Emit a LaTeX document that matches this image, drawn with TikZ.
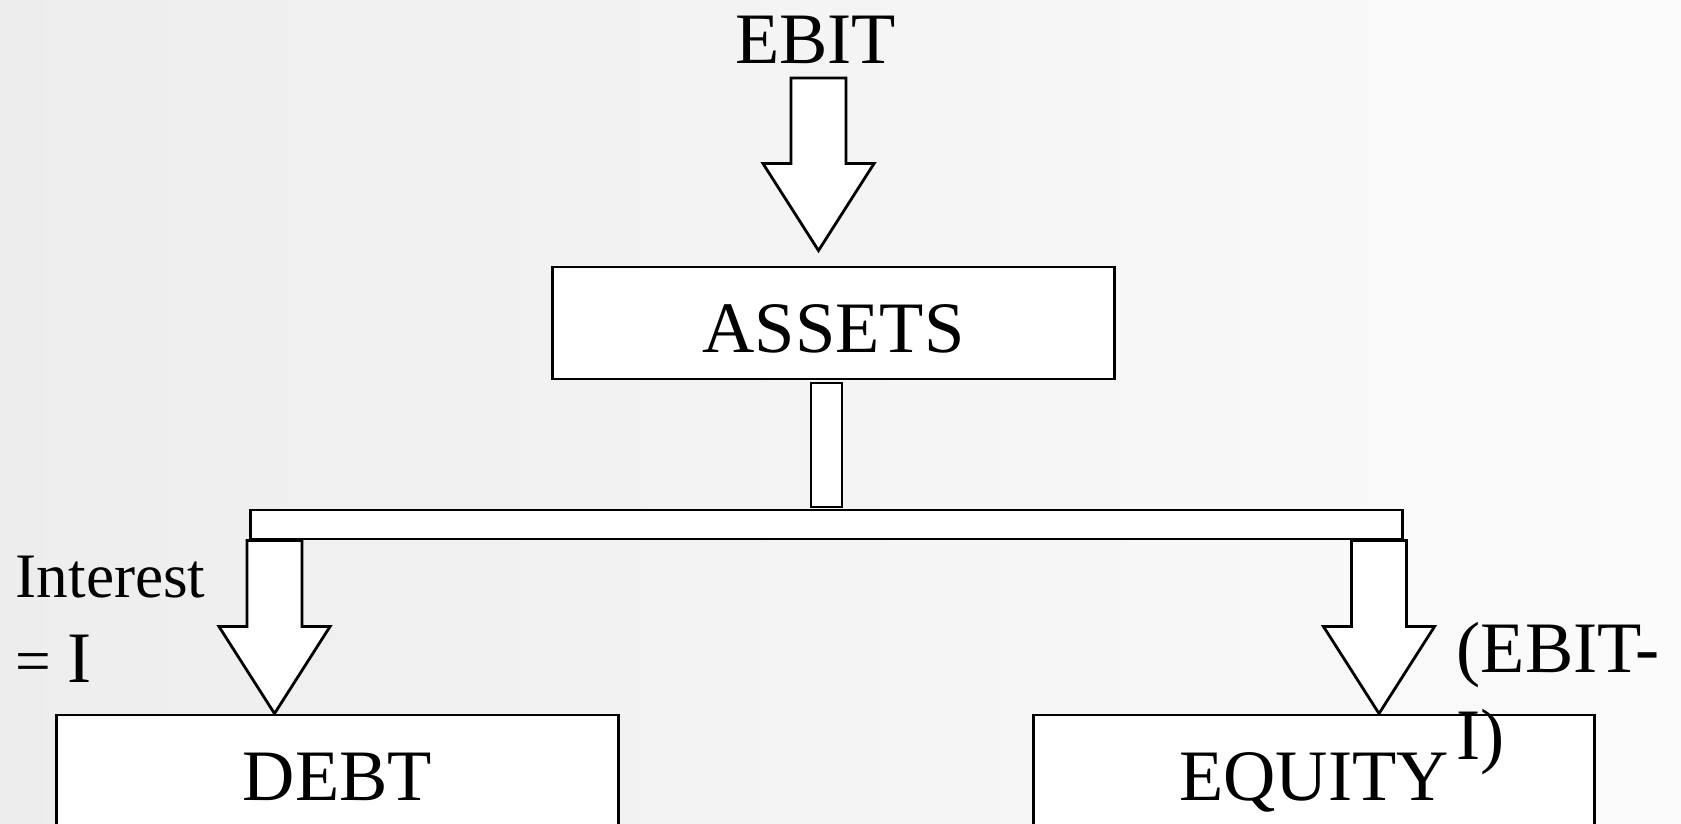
\documentclass[tikz,border=0pt]{standalone}
\usepackage{fontspec}
\setmainfont{Liberation Serif}
\usetikzlibrary{calc}
\newcommand{\bigtext}{\fontsize{20.6}{24.7}\selectfont}
\newcommand{\smalltext}{\fontsize{18}{24.4}\selectfont}
% hollow block arrow: shaft from #1 straight down to the tip #2
\newcommand{\fatarrow}[2]{%
  \draw[blockarrow] ($(#1 -| #2)+(-27.5,0)$) -- ($(#2)+(-27.5,-87)$) -- ($(#2)+(-55.5,-87)$) -- (#2)
    -- ($(#2)+(55.5,-87)$) -- ($(#2)+(27.5,-87)$) -- ($(#1 -| #2)+(27.5,0)$) -- cycle;}

\begin{document}
\begin{tikzpicture}[x=0.01cm,y=-0.01cm,
  box/.style={draw,fill=white,line width=.8pt,inner sep=0pt,minimum width=5.61cm,
    minimum height=1.12cm,text height=0.58cm,text depth=0pt,font=\bigtext},
  plank/.style={draw,fill=white,line width=.8pt,inner sep=0pt},
  blockarrow/.style={draw,fill=white,line width=.8pt,line join=miter},
  lbl/.style={inner sep=0pt,font=\bigtext}]
  \shade[left color=black!7,right color=black!1.5] (0,0) rectangle (1681,824);
  \clip (0,0) rectangle (1681,824);
  \node[lbl,anchor=base] (ebit) at (815.5,64) {EBIT};
  \node[box] (assets) at (833.5,323) {ASSETS};
  \node[plank,minimum width=.31cm,minimum height=1.24cm] (stem) at (826.5,445) {};
  \node[plank,minimum width=11.51cm,minimum height=.29cm] (bar) at (826.5,524.5) {};
  \node[box] (debt) at (337.5,771) {DEBT};
  \node[box] (equity) at (1314,771) {EQUITY};
  \node[lbl,font=\smalltext,align=left,anchor=north west] (interest) at (15,555) {Interest\\= {\bigtext I}};
  \node[lbl,align=left,anchor=north west] (net) at (1456,622) {(EBIT-\\I)};
  % arrow tips and shaft tops
  \coordinate (topStart) at ($(ebit.base)+(0,14)$);
  \coordinate (topTip) at ($(assets.north)+(-15,-15)$);
  \coordinate (debtTip) at ($(debt.north)+(-63,0)$);
  \coordinate (equityTip) at ($(equity.north)+(65,0)$);
  \fatarrow{topStart}{topTip}
  \fatarrow{bar.south}{debtTip}
  \fatarrow{bar.south}{equityTip}
\end{tikzpicture}
\end{document}
